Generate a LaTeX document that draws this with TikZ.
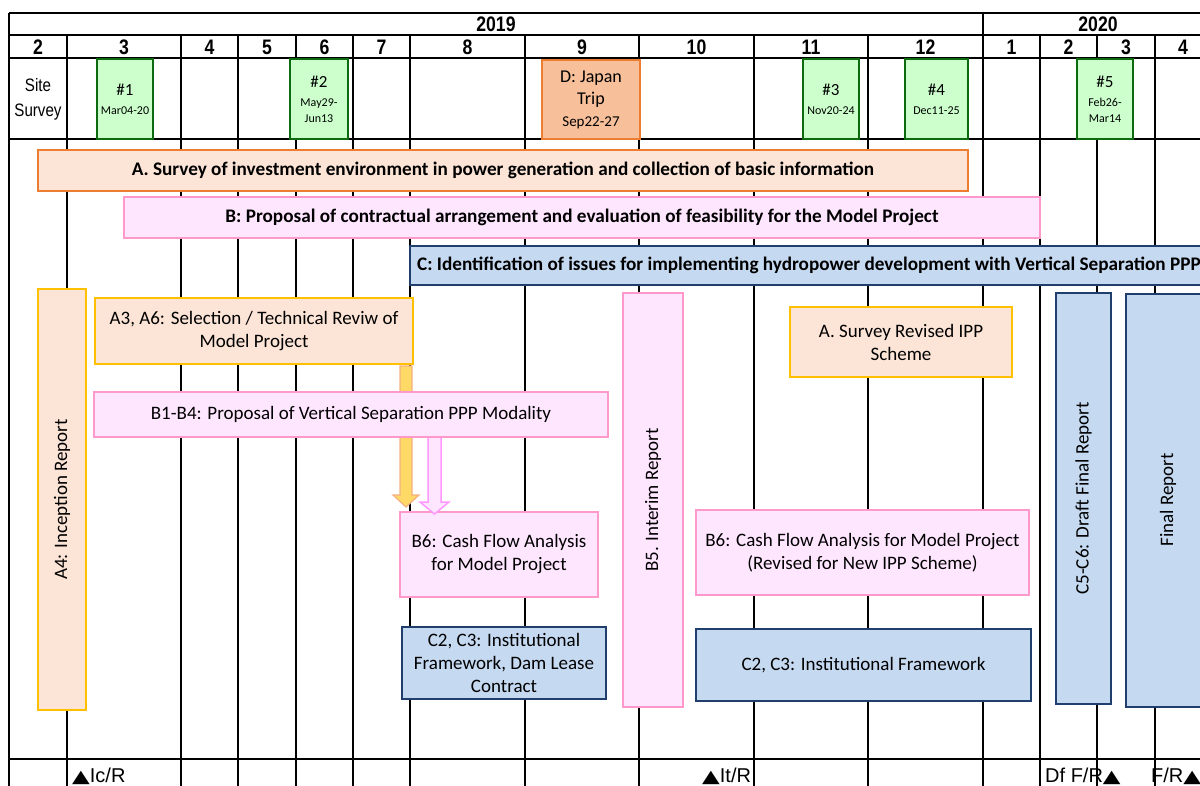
\documentclass[tikz,border=0pt]{standalone}
\usepackage{fontspec}
\usepackage{graphicx}
\setmainfont{Carlito}
\newfontfamily\narrowfont[FakeStretch=0.84]{Liberation Sans}
\newfontfamily\arialfont{Liberation Sans}
\newfontfamily\symfont{DejaVu Sans}
\usetikzlibrary{calc}

\definecolor{peach}{HTML}{FCE4D6}
\definecolor{orangeline}{HTML}{ED7D31}
\definecolor{gold}{HTML}{FFC000}
\definecolor{pinkfill}{HTML}{FFE6FF}
\definecolor{pinkline}{HTML}{FF99CC}
\definecolor{bluefill}{HTML}{C5D9F1}
\definecolor{blueline}{HTML}{203F6C}
\definecolor{greenfill}{HTML}{CCFFCC}
\definecolor{greenline}{HTML}{0E6A0E}
\definecolor{tripfill}{HTML}{F8C09A}
\definecolor{arrowfill}{HTML}{FFD966}
\definecolor{arrowline}{HTML}{F4B183}
\definecolor{pinkarrow}{HTML}{FF99FF}

% box spanning (x1,y1)-(x2,y2) in pixel units, y pointing down
\newcommand\panel[7]{%
  \node[#2,minimum width={(#5-#3)*1pt},minimum height={(#6-#4)*1pt}]
    (#1) at ({(#3+#5)/2},{(#4+#6)/2}) {#7};}
% milestone marker
\newcommand\mtri{{\symfont\scalebox{1.15}[0.88]{▲}}}

\begin{document}
\begin{tikzpicture}[x=1pt,y=-1pt,
  rule/.style={line width=1.5pt},
  rulethick/.style={line width=2.4pt},
  rulethin/.style={line width=1.1pt},
  hdr/.style={font=\narrowfont\bfseries\fontsize{21}{24}\selectfont, inner sep=0pt},
  cell/.style={draw, inner sep=0pt, outer sep=0pt, line width=1.8pt, align=center,
    font=\fontsize{19}{23}\selectfont},
  peachbox/.style={cell, fill=peach, draw=gold},
  pinkbox/.style={cell, fill=pinkfill, draw=pinkline},
  bluebox/.style={cell, fill=bluefill, draw=blueline},
  visit/.style={cell, fill=greenfill, draw=greenline, font=\fontsize{17}{19}\selectfont},
  trip/.style={cell, fill=tripfill, draw=orangeline, font=\fontsize{18}{22}\selectfont},
  bar/.style={font=\bfseries\fontsize{19.2}{22}\selectfont},
  vtext/.style={rotate=90, inner sep=0pt, font=\fontsize{19}{23}\selectfont},
  foot/.style={font=\arialfont\fontsize{20}{24}\selectfont, inner sep=0pt},
  orangearrow/.style={fill=arrowfill, draw=arrowline, line width=1.2pt, line join=miter},
  pinkblock/.style={fill=pinkfill, draw=pinkarrow, line width=1.5pt, line join=miter}]
\useasboundingbox (0,0) rectangle (1200,785);
\clip (0,0) rectangle (1200,785);

% ---- table rules ----
\draw[rule] (9,13) -- (1210,13);
\draw[rule] (9,35) -- (1210,35);
\draw[rulethick] (9,58) -- (1210,58);
\draw[rulethick] (9,139) -- (1210,139);
\draw[rulethin] (9,759) -- (1210,759);
\draw[rule] (9,13) -- (9,790);
\foreach \x in {67,181,238,296,353,410,525,639,754,868}
  \draw[rule] (\x,35) -- (\x,790);
\draw[line width=2.6pt] (983,13) -- (983,790);
\foreach \x in {1040,1097,1155}
  \draw[rulethin] (\x,35) -- (\x,790);

% ---- years and months ----
\node[hdr] (y2019) at (496,24) {2019};
\node[hdr] (y2020) at (1098,24) {2020};
\foreach \m/\x [count=\i] in {2/38,3/124,4/209.5,5/267,6/324.5,7/381.5,8/467.5,
    9/582,10/696.5,11/811,12/925.5,1/1011.5,2/1068.5,3/1126,4/1183}
  \node[hdr] (m\i) at (\x,47) {\m};

% ---- site survey row ----
\node[align=center, inner sep=0pt, font=\narrowfont\fontsize{18}{25}\selectfont]
  (site) at (38,99) {Site\\Survey};
\panel{v1}{visit}{97}{59}{153}{139}{\#1\\{\fontsize{12}{15}\selectfont Mar04-20}}
\panel{v2}{visit}{290}{59}{348}{139}{\#2\\{\fontsize{12}{15}\selectfont May29-}\\[-3pt]{\fontsize{12}{15}\selectfont Jun13}}
\panel{trip}{trip}{542}{60}{640}{139}{D: Japan\\Trip\\{\fontsize{15}{17}\selectfont Sep22-27}}
\panel{v3}{visit}{803}{59}{859}{139}{\#3\\{\fontsize{12}{15}\selectfont Nov20-24}}
\panel{v4}{visit}{905}{59}{968}{139}{\#4\\{\fontsize{12}{15}\selectfont Dec11-25}}
\panel{v5}{visit}{1077}{59}{1133}{139}{\#5\\{\fontsize{12}{15}\selectfont Feb26-}\\[-3pt]{\fontsize{12}{15}\selectfont Mar14}}

% ---- main work bars ----
\panel{barA}{peachbox, draw=orangeline, line width=2.2pt, bar}{38}{150}{968}{191}
  {A. Survey of investment environment in power generation and collection of basic information}
\panel{barB}{pinkbox, bar}{124}{197}{1040}{238}
  {B: Proposal of contractual arrangement and evaluation of feasibility for the Model Project}
\panel{barC}{bluebox}{410}{246}{1215}{285}{}
\node[bar, anchor=west, inner sep=0pt] (barCt) at ([xshift=7pt]barC.west)
  {C: Identification of issues for implementing hydropower development with Vertical Separation PPP};

% ---- tasks ----
\panel{a4}{peachbox}{38}{289}{86}{710}{}
\node[vtext] (a4t) at (a4.center) {A4: Inception Report};
\panel{a36}{peachbox}{95}{298}{413}{364}{A3, A6: Selection / Technical Reviw of\\Model Project}
\panel{b6l}{pinkbox}{400}{512}{598}{597}{B6: Cash Flow Analysis\\for Model Project}

% block arrow from A3/A6 down to B6
\coordinate (oaS) at ([xshift=-7pt]a36.south east);
\coordinate (oaE) at ($(oaS |- b6l.north)+(0,-5)$);
\draw[orangearrow] ($(oaS)+(-6,2)$) -- ($(oaE)+(-6,-12)$) -- ($(oaE)+(-13,-12)$) -- (oaE)
  -- ($(oaE)+(13,-12)$) -- ($(oaE)+(6,-12)$) -- ($(oaS)+(6,2)$) -- cycle;

\panel{b14}{pinkbox}{94}{392}{608}{437}{B1-B4: Proposal of Vertical Separation PPP Modality}

% block arrow from B1-B4 down to B6
\coordinate (paS) at ($(b14.south west)+(340.5,0)$);
\coordinate (paE) at ($(paS |- b6l.north)+(0,2)$);
\draw[pinkblock] ($(paS)+(-6.5,1)$) -- ($(paE)+(-6.5,-12)$) -- ($(paE)+(-14.5,-12)$) -- (paE)
  -- ($(paE)+(14.5,-12)$) -- ($(paE)+(6.5,-12)$) -- ($(paS)+(6.5,1)$);

\panel{c23l}{bluebox}{402}{627}{606}{699}{C2, C3: Institutional\\Framework, Dam Lease\\Contract}
\panel{b5}{pinkbox}{623}{293}{683}{707}{}
\node[vtext] (b5t) at (b5.center) {B5. Interim Report};
\panel{asr}{peachbox}{790}{307}{1012}{377}{A. Survey Revised IPP\\Scheme}
\panel{b6r}{pinkbox}{696}{510}{1029}{595}{B6: Cash Flow Analysis for Model Project\\(Revised for New IPP Scheme)}
\panel{c23r}{bluebox}{696}{629}{1031}{701}{C2, C3: Institutional Framework}
\panel{c56}{bluebox}{1056}{293}{1111}{704}{}
\node[vtext] (c56t) at (c56.center) {C5-C6: Draft Final Report};
\panel{fr}{bluebox}{1126}{294}{1210}{707}{}
\node[vtext] (frt) at (1168,500) {Final Report};

% ---- report milestones ----
\node[foot, anchor=base west] (ic) at (72,782) {\mtri Ic/R};
\node[foot, anchor=base west] (it) at (702,782) {\mtri It/R};
\node[foot, anchor=base west] (df) at (1045,782) {Df F/R\mtri};
\node[foot, anchor=base west] (fin) at (1151,782) {F/R\mtri};
\end{tikzpicture}
\end{document}
